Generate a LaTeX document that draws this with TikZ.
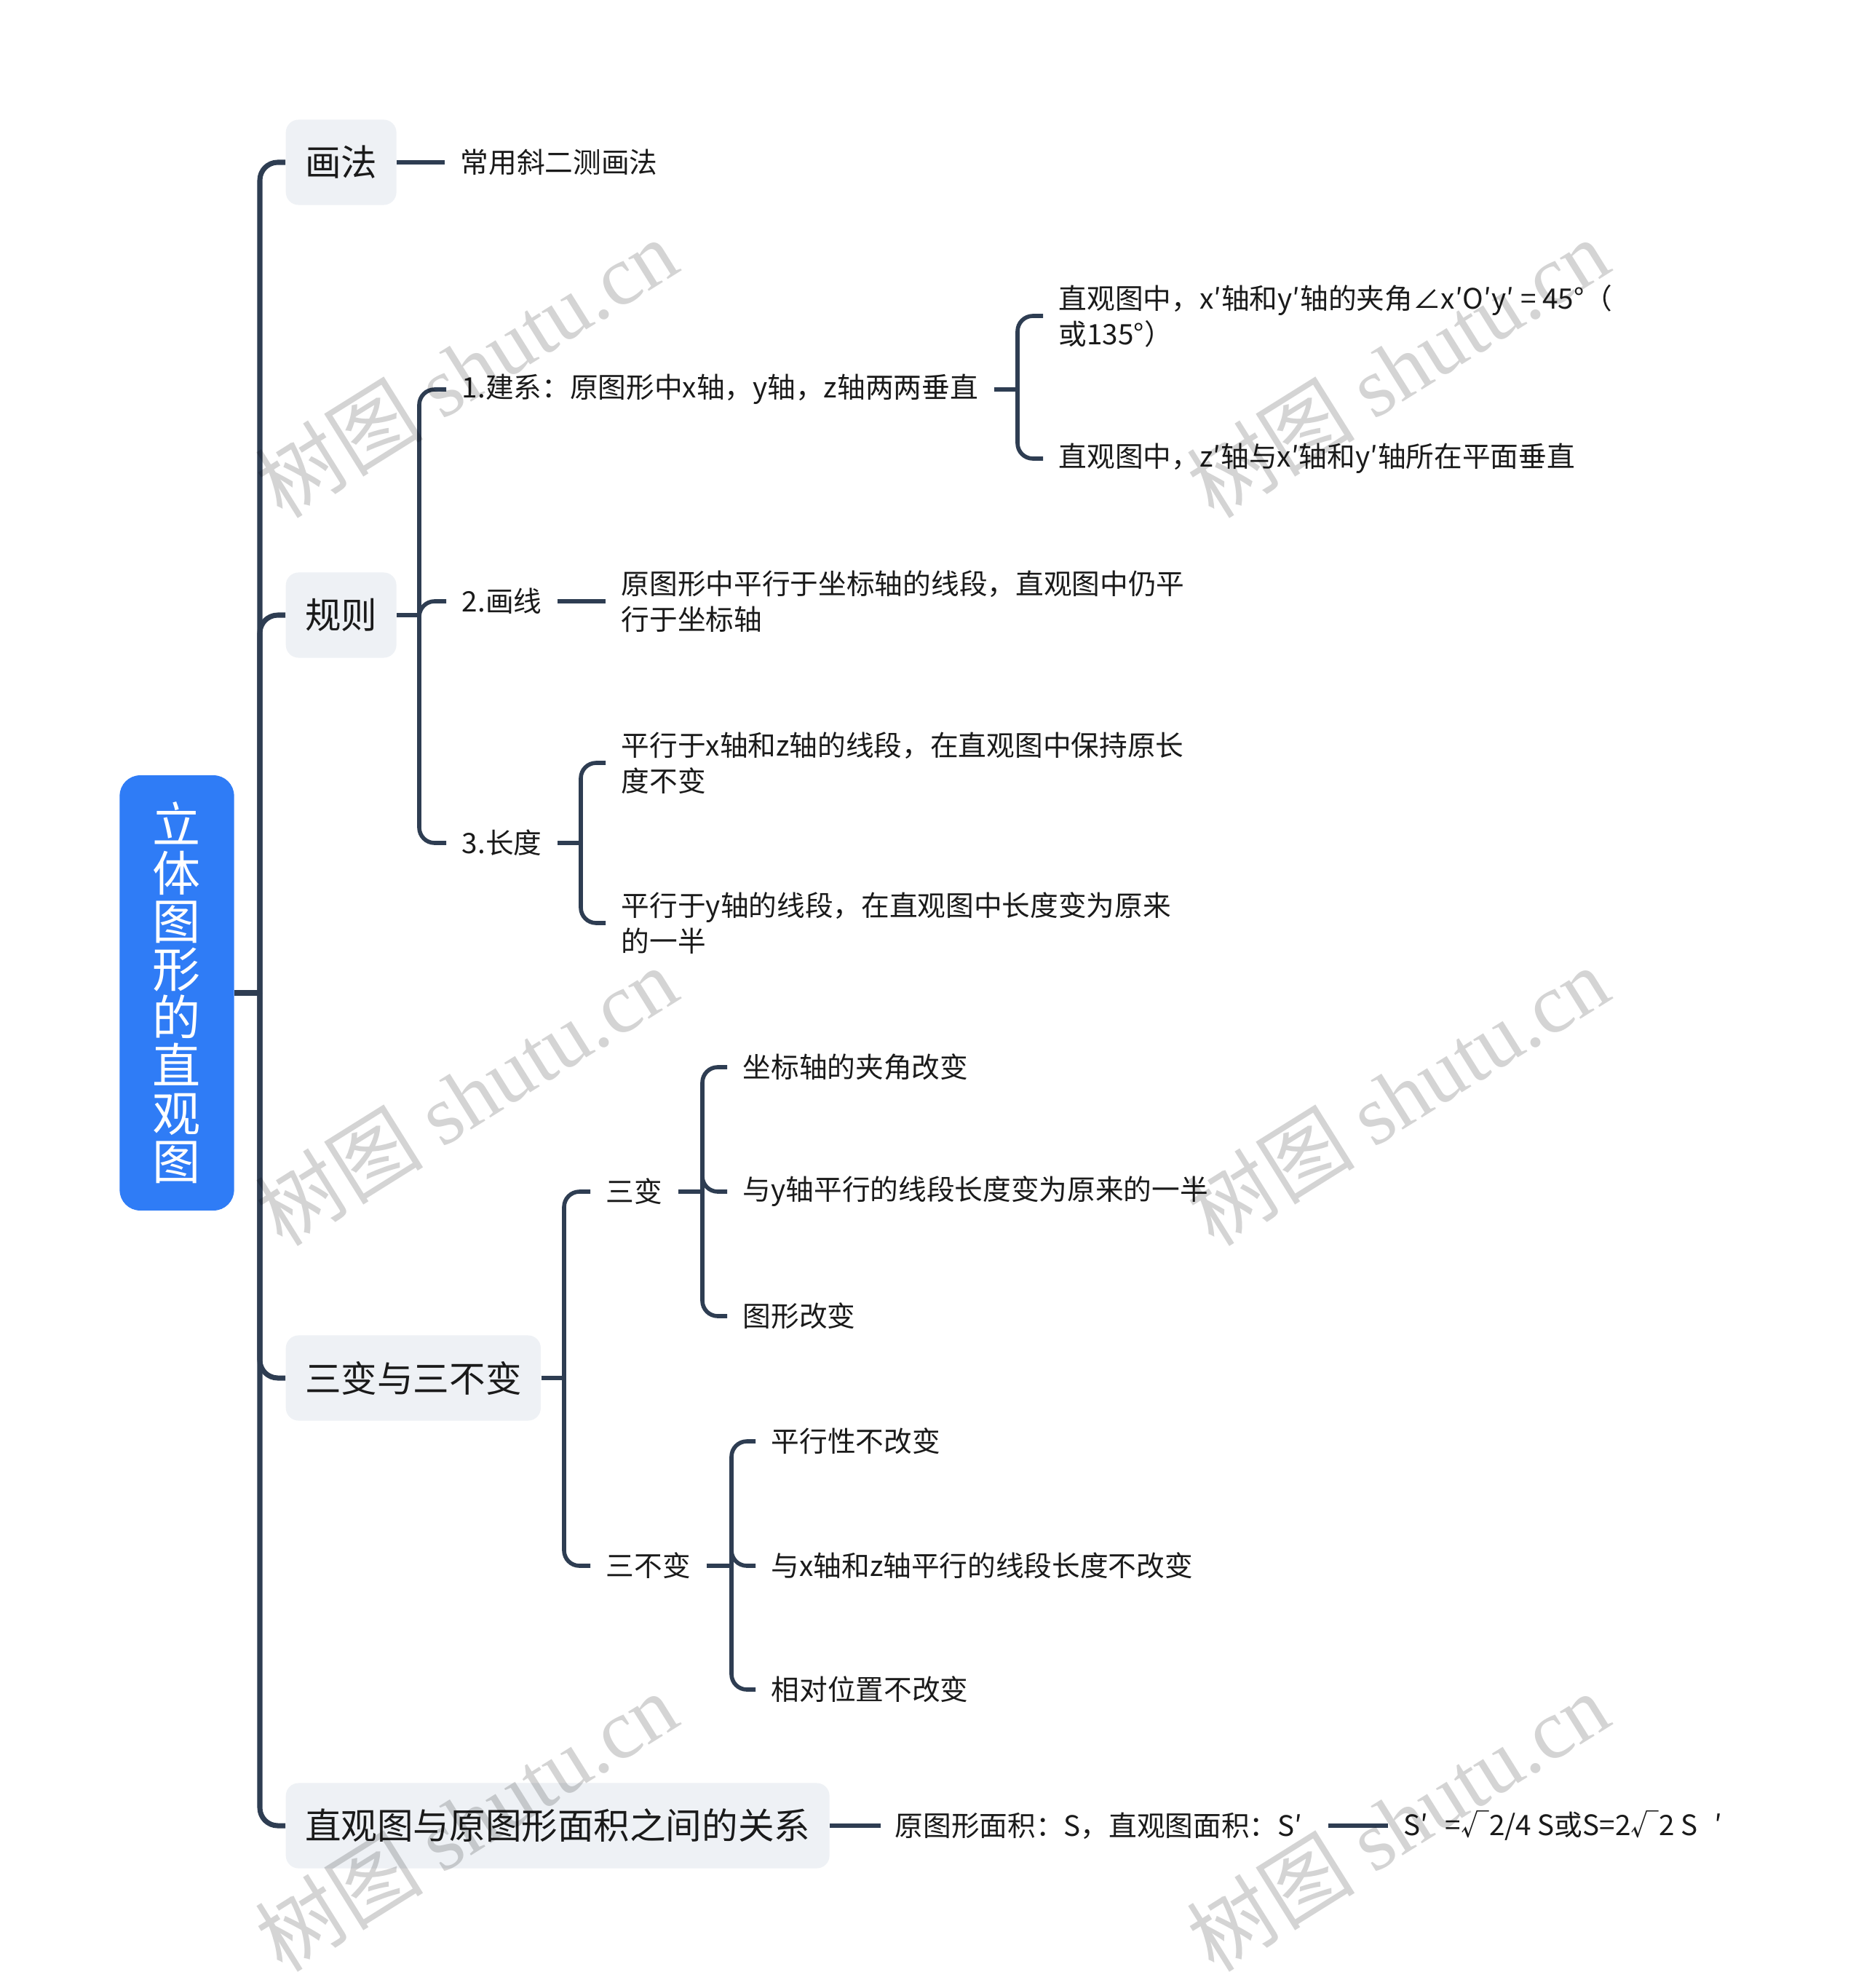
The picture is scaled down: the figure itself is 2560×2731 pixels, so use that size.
\documentclass[tikz,border=0pt]{standalone}
\usepackage{fontspec}
\setmainfont{Noto Sans CJK SC}
\newfontfamily\wmserif{Liberation Serif}
\definecolor{linec}{HTML}{2E3D52}
\definecolor{rootc}{HTML}{2F7CF6}
\definecolor{boxc}{HTML}{EEF1F5}
\definecolor{txtc}{HTML}{1A1A1A}
\definecolor{wmc}{HTML}{D4D4D4}
\begin{document}
\begin{tikzpicture}[x=0.01cm,y=-0.01cm,
  trunkline/.style={draw=linec, line width=2pt, rounded corners=7pt},
  conn/.style={draw=linec, line width=1.6pt, rounded corners=6pt},
  rootbox/.style={fill=rootc, rounded corners=8pt, text=white, inner sep=0pt,
    font=\fontsize{18.8pt}{18.8pt}\selectfont, align=center,
    minimum width=44.7pt, minimum height=170pt},
  lbox/.style={fill=boxc, rounded corners=5pt, text=txtc, anchor=west,
    font=\fontsize{14.1pt}{17pt}\selectfont, inner xsep=7.5pt, inner ysep=0pt,
    minimum height=33.3pt},
  txt/.style={anchor=west, align=left, text=txtc, inner xsep=6pt, inner ysep=2pt,
    font=\fontsize{11pt}{13.9pt}\selectfont},
  wm/.style={rotate=32, text=wmc, inner sep=0pt, font=\fontsize{33pt}{33pt}\selectfont}]
\fill[white] (0,0) rectangle (2560,2731);
\useasboundingbox (0,0) rectangle (2560,2731);

% root
\node[rootbox] (root) at (243,1364) {立\\体\\图\\形\\的\\直\\观\\图};
\coordinate (t0) at (357,1364);

% level 1
\node[lbox] (hf) at (392,223) {画法};
\node[lbox] (gz) at (392,845) {规则};
\node[lbox] (sb) at (392,1893) {三变与三不变};
\node[lbox] (mj) at (392,2508) {直观图与原图形面积之间的关系};

\draw[trunkline] (root.east) -- (t0);
\foreach \c in {hf,gz,sb,mj} \draw[trunkline] (t0) |- (\c.west);

% 画法
\node[txt] (hf1) at (611,223) {常用斜二测画法};
\draw[conn] (hf.east) -- (hf1.west);

% 规则
\coordinate (t1) at (576,845);
\node[txt] (g1) at (613,535) {1.建系：原图形中x轴，y轴，z轴两两垂直};
\node[txt] (g2) at (613,826) {2.画线};
\node[txt] (g3) at (613,1158) {3.长度};
\draw[conn] (gz.east) -- (t1);
\foreach \c in {g1,g2,g3} \draw[conn] (t1) |- (\c.west);

\coordinate (t11) at (1398,535);
\node[txt] (g11) at (1433,434) {直观图中，x′轴和y′轴的夹角∠x′O′y′ = 45°（\\或135°）};
\node[txt] (g12) at (1433,630) {直观图中，z′轴与x′轴和y′轴所在平面垂直};
\draw[conn] (g1.east) -- (t11);
\foreach \c in {g11,g12} \draw[conn] (t11) |- (\c.west);

\node[txt] (g21) at (832,826) {原图形中平行于坐标轴的线段，直观图中仍平\\行于坐标轴};
\draw[conn] (g2.east) -- (g21.west);

\coordinate (t13) at (798,1158);
\node[txt] (g31) at (832,1048) {平行于x轴和z轴的线段，在直观图中保持原长\\度不变};
\node[txt] (g32) at (832,1268) {平行于y轴的线段，在直观图中长度变为原来\\的一半};
\draw[conn] (g3.east) -- (t13);
\foreach \c in {g31,g32} \draw[conn] (t13) |- (\c.west);

% 三变与三不变
\coordinate (t2) at (775,1893);
\node[txt] (s1) at (811,1637) {三变};
\node[txt] (s2) at (811,2151) {三不变};
\draw[conn] (sb.east) -- (t2);
\foreach \c in {s1,s2} \draw[conn] (t2) |- (\c.west);

\coordinate (t21) at (965,1637);
\node[txt] (s11) at (999,1466) {坐标轴的夹角改变};
\node[txt] (s12) at (999,1637) {与y轴平行的线段长度变为原来的一半};
\node[txt] (s13) at (999,1808) {图形改变};
\draw[conn] (s1.east) -- (t21);
\foreach \c in {s11,s12,s13} \draw[conn] (t21) |- (\c.west);

\coordinate (t22) at (1005,2151);
\node[txt] (s21) at (1038,1980) {平行性不改变};
\node[txt] (s22) at (1038,2151) {与x轴和z轴平行的线段长度不改变};
\node[txt] (s23) at (1038,2321) {相对位置不改变};
\draw[conn] (s2.east) -- (t22);
\foreach \c in {s21,s22,s23} \draw[conn] (t22) |- (\c.west);

% 面积
\node[txt, inner xsep=0pt] (m1) at (1229,2508) {原图形面积：S，直观图面积：S′\hspace{0.9em}};
\node[txt] (m2) at (1907,2508) {S′\hspace{0.6em}=√2/4 S或S=2√2 S\hspace{0.6em}′};
\draw[conn] (mj.east) -- ([xshift=-5.4pt]m1.west);
\draw[conn] (m1.east) -- (m2.west);

% watermarks
\begin{scope}[blend mode=multiply]
\foreach \x/\y [count=\i] in {640/505,1920/505,640/1505,1920/1505,640/2502,1920/2502}
  \node[wm] (wm\i) at (\x,\y) {树图 {\wmserif shutu.cn}};
\end{scope}
\end{tikzpicture}
\end{document}
